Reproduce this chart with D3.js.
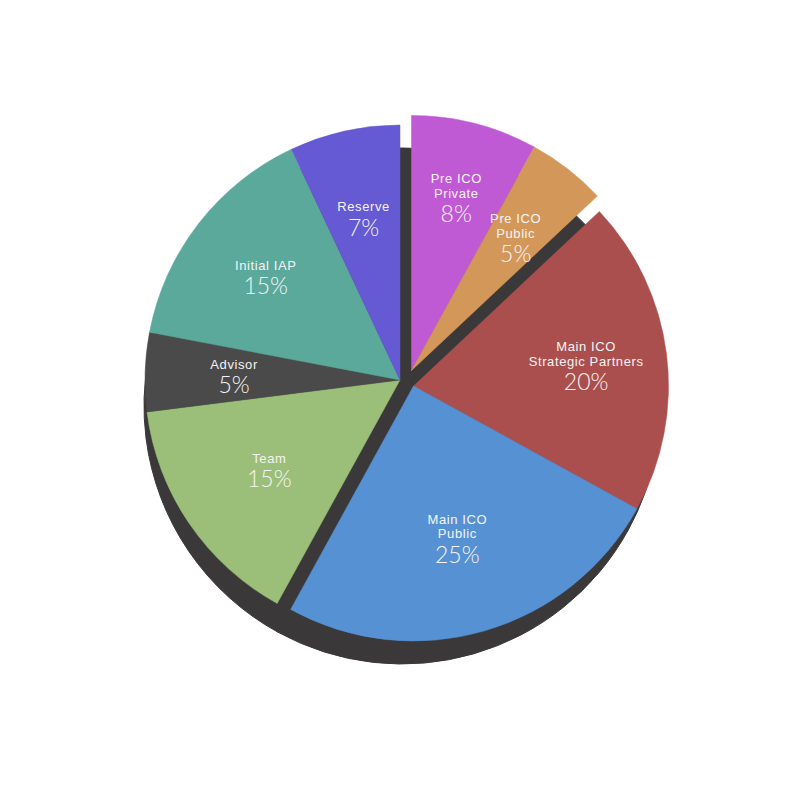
<!DOCTYPE html>
<html lang="en">
<head>
    <meta charset="UTF-8">
    <title>Token distribution</title>
    <script src="https://cdn.jsdelivr.net/npm/d3@7/dist/d3.min.js"></script>
    <style>
        body { margin: 0; background: #fff; }
    </style>
</head>
<body>
<script>

    // data
    var names = [["Pre ICO", "Private"], ["Pre ICO", "Public"], ["Main ICO", "Strategic Partners"],
        ["Main ICO", "Public"], ["Team"], ["Advisor"], ["Initial IAP"], ["Reserve"]];
    var values = [8, 5, 20, 25, 15, 5, 15, 7];
    var colors = ["#c059d4", "#d4975a", "#ab4f4e", "#5691d3", "#9bbf79", "#4a4a4a", "#5aa99b", "#6659d4"];
    // which pulled-out block each slice belongs to
    var groupOf = [0, 0, 1, 1, 2, 2, 2, 2];
    var groupShift = [[11.5, -9.5], [13.5, 6], [0, 0]];
    // label distance from the slice centre
    var labelDist = [180, 170, 174, 157, 158, 166, 170, 167];

    var width = 800, height = 800;
    var cx = 400, cy = 380;   // pie centre
    var r = 255;              // pie radius
    var shadowR = 258;
    var shadowDx = 2, shadowDy = 26;

    var svg = d3.select("body").append("svg")
        .attr("width", width)
        .attr("height", height);

    var pie = d3.pie().sort(null).value(function (d) { return d; });
    var arcs = pie(values);

    var arc = d3.arc().innerRadius(0).outerRadius(r);
    var shadowArc = d3.arc().innerRadius(0).outerRadius(shadowR);

    // dark base underneath the pie
    svg.append("g")
        .attr("transform", "translate(" + (cx + shadowDx) + "," + (cy + shadowDy) + ")")
        .selectAll("path")
        .data(arcs)
        .enter()
        .append("path")
        .attr("d", shadowArc)
        .attr("fill", "#3a3839")
        .attr("stroke", "#3a3839")
        .attr("stroke-width", 1);

    // slices
    var slice = svg.selectAll("g.slice")
        .data(arcs)
        .enter()
        .append("g")
        .attr("class", "slice")
        .attr("transform", function (d, i) {
            var s = groupShift[groupOf[i]];
            return "translate(" + (cx + s[0]) + "," + (cy + s[1]) + ")";
        });

    slice.append("path")
        .attr("d", arc)
        .attr("fill", function (d, i) { return colors[i]; })
        .attr("stroke", function (d, i) { return colors[i]; })
        .attr("stroke-width", 0.5);

    // labels
    var lineH = 14.6, pctGap = 21;
    slice.each(function (d, i) {
        var g = d3.select(this);
        var c = d3.arc().innerRadius(labelDist[i]).outerRadius(labelDist[i]).centroid(d);
        var n = names[i].length;
        var y0 = c[1] - (lineH * (n - 1) + pctGap) / 2;
        var t = g.append("g").attr("transform", "translate(" + c[0] + ",0)");
        names[i].forEach(function (line, k) {
            t.append("text")
                .attr("x", 0)
                .attr("y", y0 + k * lineH)
                .attr("dy", "0.35em")
                .attr("text-anchor", "middle")
                .style("font-family", "'Liberation Sans', Arial, sans-serif")
                .style("font-size", "13px")
                .style("letter-spacing", "0.6px")
                .style("fill", "#f4f4f4")
                .text(line);
        });
        t.append("text")
            .attr("x", 0)
            .attr("y", y0 + lineH * (n - 1) + pctGap)
            .attr("dy", "0.35em")
            .attr("text-anchor", "middle")
            .style("font-family", "Lato, 'Liberation Sans', Arial, sans-serif")
            .style("font-weight", 300)
            .style("font-size", "23px")
            .style("fill", "#f4f4f4")
            .text(values[i] + "%");
    });

</script>
</body>
</html>
